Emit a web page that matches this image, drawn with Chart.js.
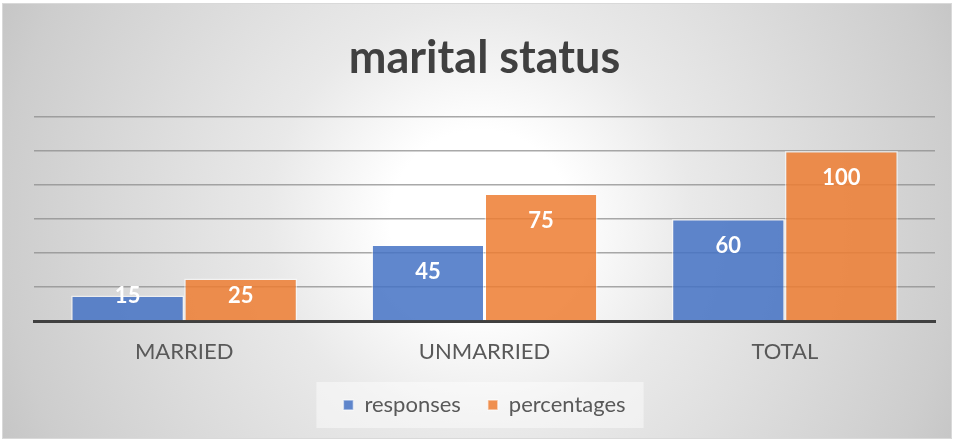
<!DOCTYPE html>
<html>
<head>
<meta charset="utf-8">
<script src="https://cdn.jsdelivr.net/npm/chart.js@4/dist/chart.umd.min.js"></script>
<style>
  html, body { margin: 0; padding: 0; background: #ffffff; }
  #wrap { width: 953px; height: 441px; position: relative; }
</style>
</head>
<body>
<div id="wrap"><canvas id="c" width="953" height="441"></canvas></div>
<script>
const chartTitle = "marital status";
const categories = ["MARRIED", "UNMARRIED", "TOTAL"];
const seriesNames = ["responses", "percentages"];
const responses = [15, 45, 60];
const percentages = [25, 75, 100];
const yMax = 120;
const yStep = 20;

const FONT = "Lato, 'Open Sans', sans-serif";

const bgPlugin = {
  id: 'bg',
  beforeDraw(chart) {
    const ctx = chart.ctx;
    const w = chart.width, h = chart.height;
    ctx.save();
    ctx.fillStyle = '#ffffff';
    ctx.fillRect(0, 0, w, h);
    const cx = 480, cy = 220, r = 530;
    const g = ctx.createRadialGradient(cx, cy, 0, cx, cy, r);
    g.addColorStop(0, '#ffffff');
    g.addColorStop(0.17, '#ffffff');
    g.addColorStop(0.4, '#e9e9e9');
    g.addColorStop(0.9, '#cdcdcd');
    g.addColorStop(1, '#c5c5c5');
    ctx.fillStyle = g;
    ctx.fillRect(3, 4, w - 5, h - 7);
    ctx.strokeStyle = '#d9d9d9';
    ctx.lineWidth = 1;
    ctx.strokeRect(2.5, 3.5, w - 4, h - 6);
    const lg = chart.legend;
    if (lg && lg.legendHitBoxes && lg.legendHitBoxes.length) {
      const hb = lg.legendHitBoxes;
      const x0 = hb[0].left - 27, x1 = hb[hb.length - 1].left + hb[hb.length - 1].width + 18;
      const yc = hb[0].top + hb[0].height / 2;
      ctx.fillStyle = 'rgba(255,255,255,0.45)';
      ctx.fillRect(x0, yc - 23, x1 - x0, 46);
    }
    ctx.restore();
  }
};

const labelPlugin = {
  id: 'valueLabels',
  afterDatasetsDraw(chart) {
    const ctx = chart.ctx;
    const base = chart.scales.y.getPixelForValue(0);
    ctx.save();
    ctx.fillStyle = '#ffffff';
    ctx.font = "bold 22px " + FONT;
    ctx.textAlign = 'center';
    ctx.textBaseline = 'middle';
    chart.data.datasets.forEach((ds, di) => {
      const meta = chart.getDatasetMeta(di);
      meta.data.forEach((bar, i) => {
        const y = Math.min(bar.y + 27, base - 25.5);
        ctx.fillText(String(ds.data[i]), bar.x, y);
      });
    });
    ctx.restore();
  }
};

new Chart(document.getElementById('c'), {
  type: 'bar',
  data: {
    labels: categories,
    datasets: [
      {
        label: seriesNames[0],
        data: responses,
        backgroundColor: 'rgba(68,114,196,0.85)',
        borderColor: 'rgba(255,255,255,0.55)',
        borderWidth: 1.5,
        categoryPercentage: 0.753,
        barPercentage: 1.0
      },
      {
        label: seriesNames[1],
        data: percentages,
        backgroundColor: 'rgba(237,125,49,0.85)',
        borderColor: 'rgba(255,255,255,0.55)',
        borderWidth: 1.5,
        categoryPercentage: 0.753,
        barPercentage: 1.0
      }
    ]
  },
  options: {
    responsive: false,
    animation: false,
    devicePixelRatio: 1,
    layout: { padding: { left: 34, right: 18, top: 0, bottom: 15 } },
    plugins: {
      title: {
        display: true,
        text: chartTitle,
        color: '#404040',
        font: { family: FONT, size: 45, weight: 'bold' },
        padding: { top: 31, bottom: 32 }
      },
      legend: {
        display: true,
        position: 'bottom',
        labels: {
          color: '#595959',
          font: { family: FONT, size: 22 },
          boxWidth: 10,
          boxHeight: 10,
          padding: 27
        }
      },
      tooltip: { enabled: false }
    },
    scales: {
      x: {
        grid: { display: false, drawTicks: false },
        border: { display: true, color: '#404040', width: 3 },
        ticks: { color: '#595959', font: { family: FONT, size: 22 }, padding: 18 },
        afterFit(scale) { scale.height = 46; }
      },
      y: {
        min: 0,
        max: yMax,
        ticks: { display: false, stepSize: yStep },
        grid: { color: 'rgba(140,140,140,0.75)', lineWidth: 1.5, drawTicks: false },
        border: { display: false }
      }
    }
  },
  plugins: [bgPlugin, labelPlugin]
});
</script>
</body>
</html>
